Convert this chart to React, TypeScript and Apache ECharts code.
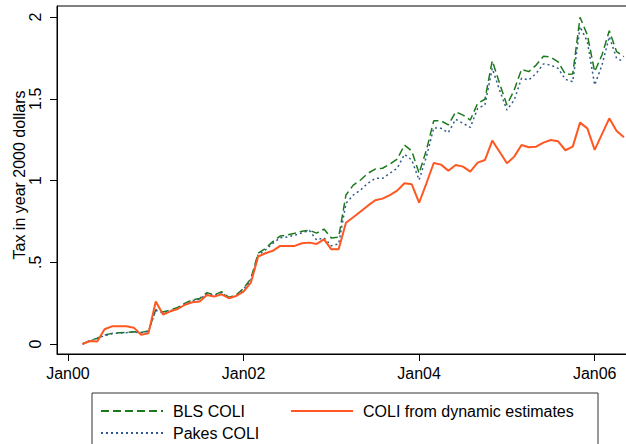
import React, { useEffect, useRef } from "react";
import * as echarts from "echarts";

// Months counted from Jan 2000 (0 = Jan00). Series start in Mar 2000.
const START_MONTH = 2;

const X_TICK_VALUES = [0, 24, 48, 72];
const X_TICK_LABELS = ["Jan00", "Jan02", "Jan04", "Jan06"];
const Y_TICK_VALUES = [0, 0.5, 1, 1.5, 2];
const Y_TICK_LABELS = ["0", ".5", "1", "1.5", "2"];

const SERIES_NAMES = ["BLS COLI", "Pakes COLI", "COLI from dynamic estimates"];

const blsColi = [
  0, 0.021, 0.035, 0.055, 0.065, 0.069, 0.071, 0.075, 0.071, 0.08,
  0.21, 0.196, 0.208, 0.224, 0.25, 0.27, 0.278, 0.314, 0.3, 0.32,
  0.285, 0.3, 0.34, 0.4, 0.555, 0.585, 0.626, 0.66, 0.667, 0.677,
  0.69, 0.695, 0.678, 0.703, 0.648, 0.653, 0.911, 0.972, 1.003, 1.044,
  1.07, 1.075, 1.1, 1.13, 1.217, 1.18, 1.044, 1.187, 1.365, 1.365,
  1.34, 1.42, 1.4, 1.37, 1.472, 1.497, 1.733, 1.594, 1.462, 1.553,
  1.68, 1.666, 1.706, 1.76, 1.755, 1.725, 1.65, 1.651, 1.998, 1.89,
  1.666, 1.768, 1.916, 1.788, 1.757,
];

const pakesColi = [
  0, 0.02, 0.033, 0.052, 0.063, 0.067, 0.069, 0.073, 0.069, 0.077,
  0.205, 0.19, 0.203, 0.218, 0.245, 0.265, 0.273, 0.308, 0.295, 0.315,
  0.28, 0.295, 0.335, 0.39, 0.545, 0.575, 0.615, 0.65, 0.655, 0.665,
  0.68, 0.695, 0.636, 0.65, 0.6, 0.612, 0.86, 0.911, 0.942, 0.983,
  1.013, 1.013, 1.044, 1.075, 1.16, 1.125, 1.003, 1.146, 1.322, 1.319,
  1.293, 1.374, 1.35, 1.325, 1.441, 1.462, 1.686, 1.553, 1.431, 1.492,
  1.625, 1.615, 1.655, 1.713, 1.706, 1.686, 1.619, 1.604, 1.941, 1.849,
  1.584, 1.706, 1.88, 1.747, 1.727,
];

const dynamicColi = [
  0, 0.018, 0.015, 0.09, 0.108, 0.108, 0.108, 0.1, 0.057, 0.065,
  0.26, 0.18, 0.2, 0.214, 0.24, 0.255, 0.26, 0.3, 0.29, 0.304,
  0.28, 0.294, 0.32, 0.375, 0.535, 0.555, 0.57, 0.6, 0.6, 0.6,
  0.616, 0.62, 0.612, 0.64, 0.579, 0.579, 0.742, 0.775, 0.81, 0.846,
  0.879, 0.889, 0.911, 0.938, 0.983, 0.977, 0.864, 0.983, 1.107, 1.097,
  1.06, 1.095, 1.085, 1.054, 1.109, 1.125, 1.244, 1.176, 1.105, 1.146,
  1.217, 1.203, 1.207, 1.232, 1.248, 1.24, 1.185, 1.207, 1.354, 1.319,
  1.187, 1.284, 1.38, 1.303, 1.264,
];

const toPoints = (arr: number[]) => arr.map((v, i) => [START_MONTH + i, v]);

const FONT = "'Liberation Sans', Arial, Helvetica, sans-serif";

export default function App() {
  const ref = useRef<HTMLDivElement>(null);

  useEffect(() => {
    if (!ref.current) return;
    const chart = echarts.init(ref.current, undefined, { renderer: "svg" });
    const xLabel = (v: number) => {
      const i = X_TICK_VALUES.indexOf(v);
      return i >= 0 ? X_TICK_LABELS[i] : "";
    };
    const yLabel = (v: number) => {
      const i = Y_TICK_VALUES.findIndex((t) => Math.abs(t - v) < 1e-9);
      return i >= 0 ? Y_TICK_LABELS[i] : "";
    };
    const legendCommon = {
      padding: 0,
      itemWidth: 62,
      itemHeight: 14,
      itemStyle: { opacity: 0, color: "transparent", borderWidth: 0 },
      textStyle: { fontSize: 16, color: "#000", fontFamily: FONT, padding: [0, 0, 0, 5] },
    };
    const option: any = {
      animation: false,
      backgroundColor: "#ffffff",
      textStyle: { fontFamily: FONT },
      grid: {
        left: 57,
        top: 6,
        width: 600,
        height: 348,
        show: true,
        borderColor: "#000",
        borderWidth: 1,
        backgroundColor: "#fff",
        containLabel: false,
        outerBoundsMode: "none",
      },
      xAxis: {
        type: "value",
        min: -1.5,
        max: 80.52,
        splitLine: { show: false },
        axisLine: { show: true, onZero: false, lineStyle: { color: "#000", width: 1 } },
        axisTick: {
          show: true,
          length: 7,
          customValues: X_TICK_VALUES,
          lineStyle: { color: "#000", width: 1 },
        },
        axisLabel: {
          customValues: X_TICK_VALUES,
          formatter: xLabel,
          color: "#000",
          fontSize: 16,
          fontFamily: FONT,
          margin: 11,
        },
      },
      yAxis: {
        type: "value",
        min: -0.0612,
        max: 2.0673,
        splitLine: { show: false },
        axisLine: { show: true, onZero: false, lineStyle: { color: "#000", width: 1 } },
        axisTick: {
          show: true,
          length: 7,
          customValues: Y_TICK_VALUES,
          lineStyle: { color: "#000", width: 1 },
        },
        axisLabel: {
          customValues: Y_TICK_VALUES,
          formatter: yLabel,
          rotate: 90,
          color: "#000",
          fontSize: 16,
          fontFamily: FONT,
          margin: 14,
        },
      },
      legend: [
        {
          ...legendCommon,
          data: [SERIES_NAMES[0], SERIES_NAMES[2]],
          left: 100,
          top: 403,
          itemGap: 45,
        },
        {
          ...legendCommon,
          data: [SERIES_NAMES[1]],
          left: 100,
          top: 425,
        },
      ],
      graphic: [
        {
          type: "rect",
          shape: { x: 92, y: 393, width: 506, height: 60 },
          style: { fill: "none", stroke: "#333", lineWidth: 1 },
          silent: true,
        },
        {
          type: "text",
          x: 19,
          y: 175,
          rotation: Math.PI / 2,
          style: {
            text: "Tax in year 2000 dollars",
            fill: "#000",
            font: `16px ${FONT}`,
            textAlign: "center",
            textVerticalAlign: "middle",
            align: "center",
            verticalAlign: "middle",
          },
          silent: true,
        },
      ],
      series: [
        {
          name: SERIES_NAMES[0],
          type: "line",
          data: toPoints(blsColi),
          symbol: "none",
          lineStyle: { color: "#1b7a1b", width: 1.5, type: [8, 4] },
          itemStyle: { color: "#1b7a1b" },
          z: 2,
        },
        {
          name: SERIES_NAMES[1],
          type: "line",
          data: toPoints(pakesColi),
          symbol: "none",
          lineStyle: { color: "#2f5b8c", width: 1.5, type: [2, 3] },
          itemStyle: { color: "#2f5b8c" },
          z: 3,
        },
        {
          name: SERIES_NAMES[2],
          type: "line",
          data: toPoints(dynamicColi),
          symbol: "none",
          lineStyle: { color: "#ff5722", width: 2 },
          itemStyle: { color: "#ff5722" },
          z: 4,
        },
      ],
    };
    chart.setOption(option);
    return () => chart.dispose();
  }, []);

  return (
    <div
      ref={ref}
      style={{ position: "absolute", left: 0, top: 0, width: 626, height: 444 }}
    />
  );
}
